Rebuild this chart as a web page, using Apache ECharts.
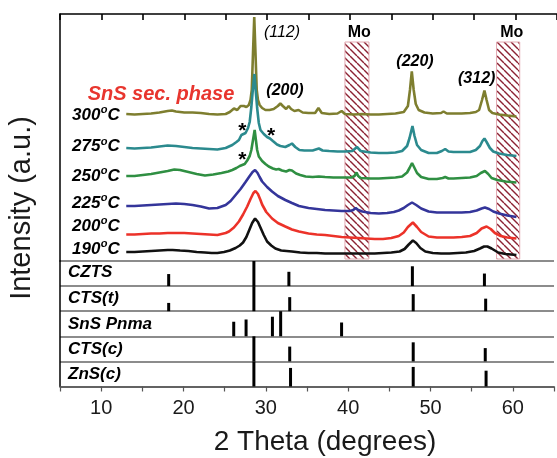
<!DOCTYPE html>
<html><head><meta charset="utf-8">
<script src="https://cdn.jsdelivr.net/npm/echarts@6/dist/echarts.min.js"></script>
<style>html,body{margin:0;padding:0;background:#fff;}#c{width:557px;height:458px;}</style>
</head><body><div id="c"></div>
<script>
const FONT = "'Liberation Sans', Arial, sans-serif";

// ---- XRD patterns (2θ, stacked intensity a.u.) ----
const t300 = [[13,147],[14,146.5],[15,147],[16,147.5],[17,148.5],[18,150],[18.5,150.5],[19,149.5],[20,148.5],[21,148.5],[22,148],[23,147],[24,146.5],[25,147],[25.5,149],[26.0,152.5],[26.4,151],[26.8,155],[27.0,153],[27.2,155],[27.5,154],[27.8,156],[28.0,161],[28.15,171],[28.3,208],[28.45,244],[28.6,208],[28.75,171],[28.9,161],[29.1,156],[29.4,153],[29.8,151],[30.3,151],[30.8,152],[31.3,155],[31.6,157.5],[31.9,155],[32.3,152],[32.6,155],[32.9,152],[33.3,150],[33.8,151],[34.3,148.5],[35,148],[35.8,148],[36.2,153],[36.6,148],[37.5,147],[38.5,147.5],[39.0,150],[39.4,147],[40.5,146.5],[41.5,147],[42.5,146.5],[43.5,146.5],[44.5,147],[45.5,147.5],[46.5,149],[47.0,155],[47.25,171],[47.47,189.5],[47.7,171],[47.95,157],[48.3,151],[49,148.5],[50,147.5],[51,148],[51.3,149.5],[51.7,147.5],[52.5,147.5],[53.5,147.5],[54.5,148],[55.2,149],[55.6,151],[55.95,161],[56.24,170.5],[56.5,161],[56.8,151],[57.2,148],[58,146.5],[59,145.5],[60.1,144.5]];
const t275 = [[13,113],[14,112.5],[15,113],[16,113.5],[17,114.5],[18,115.5],[19,115],[20,114],[21,113],[22,112.5],[23,112],[24,111.5],[25,113],[25.8,116],[26.3,119],[26.6,121],[26.9,126],[27.1,126.5],[27.4,128],[27.7,133],[27.9,139],[28.1,154],[28.3,173],[28.47,187],[28.6,173],[28.8,153],[29.0,138],[29.2,131],[29.6,127],[30.0,124],[30.35,122.5],[30.7,120],[31.2,116.5],[31.6,115],[32.2,114],[32.7,116],[33.0,117.5],[33.4,114],[33.9,111],[34.5,110.5],[35.5,110.5],[36.25,112.5],[36.7,110.5],[37.5,110],[38.5,109.5],[39.5,109.5],[40.3,110],[40.85,114],[41.3,110],[42.5,108.5],[43.5,108],[44.5,108],[45.5,108.5],[46.3,110],[46.9,115],[47.2,123],[47.55,135],[47.8,125],[48.1,116],[48.6,111],[49.5,108],[50.5,108],[51.1,110],[51.5,112],[51.9,109.5],[52.5,109],[53.5,109],[54.5,109],[55.2,111],[55.7,115],[56.0,120],[56.24,122.5],[56.5,119],[56.9,113],[57.3,109.5],[58,107.5],[59,106],[60.1,105]];
const t250 = [[13,85],[14,85],[15,86],[16,87],[17,88.5],[18,90],[18.8,91.5],[19.5,91],[20.5,89],[21.5,87],[22.5,85.5],[23.5,86.5],[24.5,88],[25.3,89.5],[25.8,91],[26.3,93],[26.7,95],[27.0,96],[27.3,97],[27.6,100.5],[27.9,105],[28.1,111],[28.3,121],[28.5,131],[28.65,121],[28.8,111],[29.0,104.5],[29.4,100],[29.8,97],[30.2,94.5],[30.7,92.5],[31.1,91.5],[31.4,92],[31.8,90.5],[32.3,89.5],[32.7,91],[33.0,90.5],[33.5,87.5],[34.0,86],[34.65,84.5],[35.5,84],[36.25,84.5],[37,84],[38,83.5],[39,83.5],[40.2,83.5],[40.55,85],[40.8,88.5],[41.0,85],[41.3,83],[42.5,82.5],[43.5,82.5],[44.5,83],[45.5,83.5],[46.3,84.5],[46.9,88.5],[47.2,93],[47.5,98],[47.8,93],[48.1,88],[48.6,84],[49.5,82],[50.5,82],[51.2,83],[51.5,84],[51.9,82.5],[52.5,82.5],[53.5,83],[54.5,83.5],[55.3,85],[55.8,88],[56.3,90],[56.7,87],[57.1,83],[57.8,81],[58.8,79.5],[60.1,78.5]];
const t225 = [[13,55],[14,55],[15,55.5],[16,56],[17,56.5],[18,57],[19,57.5],[20,57],[21,56],[22,54.5],[23,52.5],[24,53],[25,56],[25.6,60],[26.2,66],[26.8,72],[27.4,79],[27.9,85],[28.25,89],[28.55,91],[28.85,88],[29.1,84],[29.4,79.5],[30.0,74],[30.6,69.5],[31.3,65],[32.2,61],[33.0,58],[33.85,55],[35,53],[36,52],[37,51],[38,50.5],[39,50],[40,50],[40.4,51],[40.7,53],[41.0,51],[41.5,49.5],[42.5,48],[43.5,47.5],[44.5,48],[45.3,49],[45.9,50.5],[46.5,53],[47.0,56],[47.5,58.5],[48.0,56],[48.6,52.5],[49.5,49.5],[50.5,48.5],[51.5,48.5],[52.5,48.5],[53.5,48.5],[54.5,49],[55.3,50.5],[55.9,52.5],[56.3,53.5],[56.8,52],[57.3,49.5],[58,47.5],[59,45.5],[60.1,44]];
const t200 = [[13,26.5],[14,26.5],[15,27],[16,27.5],[17,27.5],[18,28],[19,28],[20,28],[21,27.5],[22,27],[23,26.5],[24,26],[25,28],[25.4,29.5],[26.0,33.5],[26.6,39.5],[27.1,46.5],[27.6,54.5],[28.0,62],[28.35,68],[28.6,70],[28.9,67],[29.2,61],[29.4,56.5],[29.9,49],[30.6,42.5],[31.3,38],[32.2,34.5],[33.0,31.5],[33.85,29.5],[35,27.5],[36,26.5],[37,26],[38,25],[39,24],[40,23.5],[41,23],[42,22.5],[43,22],[44,22],[45,23],[45.9,25],[46.5,28.5],[47.0,34],[47.6,38.5],[48.1,34],[48.6,29],[49.5,24.5],[50.5,23.5],[51.5,23.5],[52.5,23.5],[53.5,24],[54.5,25],[55.3,28],[55.9,32.5],[56.5,34.5],[57.0,32],[57.5,28],[58.2,25],[59,23.5],[60.1,22.5]];
const t190 = [[13,9],[14,9],[15,9.5],[16,10],[17,10.5],[18,11],[18.6,11],[19.5,10.5],[20.5,10],[21.5,9],[22.5,8.5],[23.3,8],[24,8],[24.8,9],[25.5,10.5],[26.2,13],[26.7,15.5],[27.1,18.5],[27.5,24],[27.85,31],[28.2,38],[28.55,42.5],[28.9,39],[29.25,32.5],[29.6,26],[30.0,19.5],[30.5,15.5],[31.0,12.5],[31.7,10.5],[33,9.5],[34,8.5],[35,8],[36,8],[37,7.5],[38,7.5],[39,7.5],[40,7.5],[41,7.5],[42,7.5],[43,7.5],[44,8],[45,8.5],[46,9.5],[46.6,12],[47.1,16.5],[47.6,20.5],[48.0,18],[48.5,13],[49.1,9.5],[50,8],[51,7.5],[52,7.5],[53,8],[54,8.5],[55,10],[55.7,12.5],[56.2,14.5],[56.6,14.5],[57.1,12.5],[57.9,8.5],[58.8,7],[60.1,6]];

// Mo substrate regions (2θ start, end)
const moBands = [[39.4, 42.3], [57.7, 60.5]];

// ---- Reference patterns: [2θ, relative intensity] ----
const czts = [[18.2,0.48],[28.55,1.0],[32.8,0.57],[47.8,0.79],[56.55,0.5]];
const ctst = [[18.2,0.33],[28.55,1.0],[32.9,0.56],[47.9,0.68],[56.7,0.5]];
const snsPnma = [[26.1,0.58],[27.6,0.67],[30.8,0.78],[31.8,1.0],[39.2,0.55]];
const ctsc = [[28.55,1.0],[32.9,0.59],[47.9,0.76],[56.65,0.53]];
const znsc = [[28.55,1.0],[33.0,0.74],[47.9,0.78],[56.75,0.63]];
const refNames = ['ZnS(c)','CTS(c)','SnS Pnma','CTS(t)','CZTS'];
const xTickLabels = [10,20,30,40,50,60];
const tempNames = ['300','275','250','225','200','190'];

const curveColors = ['#7e7e2f','#2b8a8e','#2f8f42','#34359a','#ec3229','#111111'];
const curveData = [t300, t275, t250, t225, t200, t190];

// hatch pattern
const pc = document.createElement('canvas'); pc.width = 7; pc.height = 7;
const g = pc.getContext('2d');
g.fillStyle = '#ffffff'; g.fillRect(0,0,7,7);
g.strokeStyle = '#8c2233'; g.lineWidth = 1.4;
for (const k of [-7,0,7]) { g.beginPath(); g.moveTo(k,0); g.lineTo(k+7,7); g.stroke(); }
const hatch = {type:'pattern', image: pc, repeat: 'repeat'};

const stickData = [znsc, ctsc, snsPnma, ctst, czts].flatMap((arr, r) => arr.map(([x,h]) => [x, r, h]));

const chart = echarts.init(document.getElementById('c'), null, {renderer:'canvas'});

const series = [];
series.push({
  type:'custom', xAxisIndex:0, yAxisIndex:0, z:1,
  data: moBands, encode:{x:[0,1]},
  renderItem(params, api){
    const p0 = api.coord([api.value(0), 219]);
    const p1 = api.coord([api.value(1), 2]);
    return {type:'rect', shape:{x:p0[0], y:p0[1], width:p1[0]-p0[0], height:p1[1]-p0[1]},
      style:{fill:hatch, stroke:'#e3a9b1', lineWidth:1}};
  }
});
curveData.forEach((d, i) => series.push({
  type:'line', name:tempNames[i], xAxisIndex:0, yAxisIndex:0, z:3,
  data:d, showSymbol:false, symbol:'none', smooth:false,
  lineStyle:{color:curveColors[i], width:2.6}, itemStyle:{color:curveColors[i]}
}));
series.push({
  type:'custom', xAxisIndex:1, yAxisIndex:1, z:3,
  data: stickData, encode:{x:0, y:1},
  renderItem(params, api){
    const x = api.value(0), r = api.value(1), h = api.value(2);
    const a = api.coord([x, r]), b = api.coord([x, r + h]);
    return {type:'line', shape:{x1:a[0], y1:a[1], x2:b[0], y2:b[1]},
      style:{stroke:'#000', lineWidth:3}};
  }
});

const bi = {fontFamily:FONT, fontWeight:'bold', fontStyle:'italic'};
const graphic = [];
function txt(x, y, text, font, extra){
  graphic.push(Object.assign({type:'text', x, y, style:Object.assign({text, fill:'#000', align:'center', verticalAlign:'middle', fontFamily:FONT}, font)}, extra||{}));
}
// temperature labels with superscript o
const mctx = document.createElement('canvas').getContext('2d');
function measure(text, size){ mctx.font = 'italic bold ' + size + "px 'Liberation Sans', Arial, sans-serif"; return mctx.measureText(text).width; }
const tempY = [115, 146.7, 176, 203, 226, 249];
tempNames.forEach((t, i) => {
  const y = tempY[i], x0 = 72;
  const w = measure(t, 17), wo = measure('o', 11);
  graphic.push({type:'text', x:x0, y, style:Object.assign({text:t, fill:'#000', align:'left', verticalAlign:'middle', fontSize:17}, bi)});
  graphic.push({type:'text', x:x0 + w + 0.5, y:y - 5, style:Object.assign({text:'o', fill:'#000', align:'left', verticalAlign:'middle', fontSize:11}, bi)});
  graphic.push({type:'text', x:x0 + w + wo + 0.5, y, style:Object.assign({text:'C', fill:'#000', align:'left', verticalAlign:'middle', fontSize:17}, bi)});
});
// reference row labels
const rowY = [374, 349.5, 324, 298, 272.5];
refNames.forEach((n,i) => graphic.push({type:'text', x:68, y:rowY[i], style:Object.assign({text:n, fill:'#000', align:'left', verticalAlign:'middle', fontSize:17}, bi)}));
// peak labels
txt(282, 33, '(112)', {fontSize:16, fontStyle:'italic'});
txt(285, 91, '(200)', Object.assign({fontSize:16}, bi));
txt(415, 61.7, '(220)', Object.assign({fontSize:16}, bi));
txt(476.7, 78.3, '(312)', Object.assign({fontSize:16}, bi));
txt(359.3, 32.3, 'Mo', {fontSize:16, fontWeight:'bold'});
txt(511.7, 32.3, 'Mo', {fontSize:16, fontWeight:'bold'});
txt(161, 94.3, 'SnS sec. phase', Object.assign({fontSize:20, fill:'#e8352e'}, bi));
txt(242.3, 131.5, '*', {fontSize:21, fontWeight:'bold'});
txt(271, 136, '*', {fontSize:21, fontWeight:'bold'});
txt(242.3, 160.3, '*', {fontSize:21, fontWeight:'bold'});
// axis names
txt(325, 442, '2 Theta (degrees)', {fontSize:28, fill:'#1a1a1a'});
graphic.push({type:'text', x:22, y:208, rotation:Math.PI/2, style:{text:'Intensity (a.u.)', fill:'#1a1a1a', align:'center', verticalAlign:'middle', fontFamily:FONT, fontSize:29}});

chart.setOption({
  animation:false,
  backgroundColor:'#fff',
  grid:[
    {left:60, top:14, width:499, height:247},
    {left:60, top:261, width:499, height:125.5}
  ],
  xAxis:[
    {gridIndex:0, type:'value', min:5, max:65, interval:5, position:'top',
      axisLine:{show:true, onZero:false, lineStyle:{color:'#000', width:1.5}},
      axisTick:{show:true, inside:true, length:6, lineStyle:{color:'#000', width:1.6}},
      axisLabel:{show:false}, splitLine:{show:false}},
    {gridIndex:1, type:'value', min:5, max:65, interval:5, position:'bottom',
      axisLine:{show:true, onZero:false, lineStyle:{color:'#555', width:1.6}},
      axisTick:{show:true, length:5, lineStyle:{color:'#555', width:1.2}},
      axisLabel:{fontSize:20, color:'#1a1a1a', fontFamily:FONT, margin:12,
        formatter: v => xTickLabels.includes(v) ? String(v) : ''},
      splitLine:{show:false}}
  ],
  yAxis:[
    {gridIndex:0, type:'value', min:0, max:247,
      axisLine:{show:true, onZero:false, lineStyle:{color:'#000', width:1.5}},
      axisTick:{show:false}, axisLabel:{show:false}, splitLine:{show:false}},
    {gridIndex:1, type:'value', min:0, max:5, interval:1,
      axisLine:{show:true, onZero:false, lineStyle:{color:'#000', width:1.5}},
      axisTick:{show:false}, axisLabel:{show:false},
      splitLine:{show:true, lineStyle:{color:'#666', width:1.6}}}
  ],
  series,
  graphic
});
</script></body></html>
